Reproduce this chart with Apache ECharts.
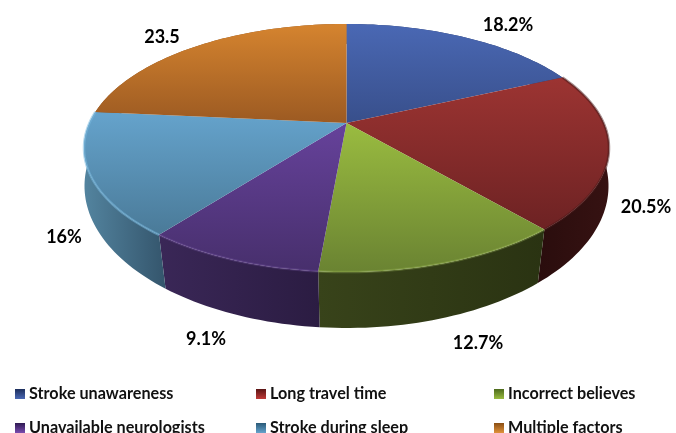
<!DOCTYPE html>
<html><head><meta charset="utf-8">
<style>html,body{margin:0;padding:0;background:#fff}#c{width:676px;height:433px;filter:blur(0.45px)}</style>
<script src="https://cdn.jsdelivr.net/npm/echarts@6/dist/echarts.min.js"></script>
</head><body><div id="c"></div>
<script>
const categories=["Stroke unawareness","Long travel time","Incorrect believes","Unavailable neurologists","Stroke during sleep","Multiple factors"];
const values=[18.2,20.5,12.7,9.1,16,23.5];
const valueLabels=["18.2%","20.5%","12.7%","9.1%","16%","23.5"];
const labelAnchors=[[508,25],[646,207],[478,343],[206,339],[64,237],[162,37]];
const topColors=[["#4a68b4","#384f8b"],["#9c3432","#6d2223"],["#9abc40","#6a8332"],["#66429b","#472f6c"],["#65a3cc","#4a7a98"],["#d5842f","#9c5a22"]];
const sideColors=[["#2a3a68","#2a3a68"],["#2a0d0d","#361212"],["#38431a","#2a3312"],["#3a2757","#2b1c42"],["#53849f","#34556c"],["#8a5020","#8a5020"]];
const rimColors=[null,"rgba(74,26,26,.5)","rgba(168,200,96,.3)","rgba(122,88,170,.3)","rgba(120,184,222,.55)",null];
const legendColors=[["#4a68b4","#1c2e5c"],["#c03a38","#5a1414"],["#9abc40","#4c6a1c"],["#7a4cb0","#2e1a52"],["#65a3cc","#2a5a78"],["#e0923a","#8a4e14"]];
const legendColumns=[[0,3],[1,4],[2,5]];
const legendLefts=[15,256,494];

const total=values.reduce((a,b)=>a+b,0);
const starts=[];values.reduce((a,v,i)=>{starts[i]=a;return a+v},0);
const CX=346.5;
const TOP_RIM={y0:123,R:257.1,H:119,k:0.2017};
const BASE_RIM={y0:163.9,R:258.8,H:138.5,k:0.156};
function rim(t,p){
  const w=1+p.k*Math.cos(t);
  return [CX+p.R*Math.sin(t)/w,p.y0-p.H*Math.cos(t)/w];
}
function arc(a,b,p){
  const n=Math.max(6,Math.ceil((b-a)*40)),out=[];
  for(let i=0;i<=n;i++)out.push(rim(a+(b-a)*i/n,p));
  return out;
}
const LG=echarts.graphic.LinearGradient;
function renderSlice(i){
  return function(params,api){
    const v=api.value(0);
    const a=starts[i]/total*2*Math.PI,b=(starts[i]+v)/total*2*Math.PI;
    const top=arc(a,b,TOP_RIM),bottom=arc(a,b,BASE_RIM);
    const kids=[];
    kids.push({type:'polygon',z2:1,shape:{points:top.concat(bottom.slice().reverse())},
      style:{fill:new LG(0,0,1,0,[{offset:0,color:sideColors[i][0]},{offset:1,color:sideColors[i][1]}])}});
    kids.push({type:'polygon',z2:5,shape:{points:[[CX,TOP_RIM.y0]].concat(top)},
      style:{fill:new LG(0,0,0,1,[{offset:0,color:topColors[i][0]},{offset:1,color:topColors[i][1]}])}});
    if(rimColors[i])kids.push({type:'polyline',z2:6,shape:{points:top},
      style:{fill:'none',stroke:rimColors[i],lineWidth:2.5}});
    kids.push({type:'text',z2:10,style:{text:valueLabels[i],x:labelAnchors[i][0],y:labelAnchors[i][1],
      align:'center',verticalAlign:'middle',fill:'#000',font:'bold 18px Lato'}});
    return {type:'group',children:kids};
  };
}
const chart=echarts.init(document.getElementById('c'),null,{renderer:'canvas'});
chart.setOption({
  backgroundColor:'#fff',animation:false,
  legend:legendColumns.map((col,k)=>({
    orient:'vertical',left:legendLefts[k],top:386,height:80,width:230,itemWidth:10,itemHeight:10,itemGap:18,padding:0,
    icon:'rect',selectedMode:false,
    data:col.map(i=>({name:categories[i],itemStyle:{color:new LG(0,0,0,1,[{offset:0,color:legendColors[i][1]},{offset:1,color:legendColors[i][0]}])}})),
    textStyle:{fontFamily:'Lato',fontWeight:'bold',fontSize:16.2,color:'#111',padding:[0,0,0,-1]}
  })),
  series:categories.map((name,i)=>({
    type:'custom',name,coordinateSystem:'none',silent:true,
    itemStyle:{color:topColors[i][0]},
    renderItem:renderSlice(i),data:[[values[i]]]
  }))
});
</script></body></html>
